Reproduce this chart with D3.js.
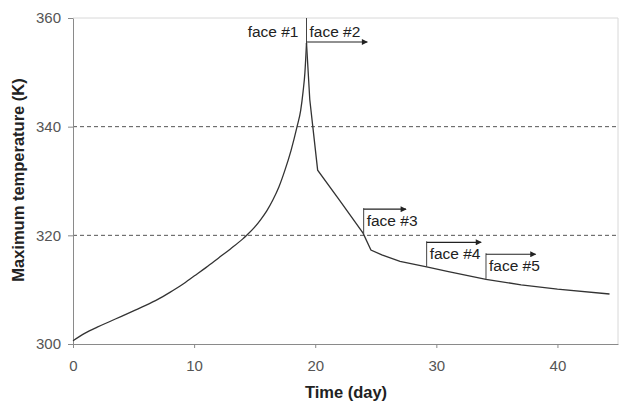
<!DOCTYPE html>
<html>
<head>
<meta charset="utf-8">
<script src="https://cdn.jsdelivr.net/npm/d3@7"></script>
<style>
  html, body { margin: 0; padding: 0; background: #ffffff; }
  svg { display: block; }
</style>
</head>
<body>
<svg id="chart" width="619" height="403"></svg>
<script>
// rising branch, up to the peak
const riseDays = [0, 1, 2, 3, 4, 5, 6, 7, 8, 9, 10, 11, 12, 13, 14, 14.34, 15, 15.5, 16, 16.5, 17, 17.5, 18, 18.5, 18.8, 19.0, 19.15, 19.28];
const riseTemps = [300.6, 302.0, 303.1, 304.1, 305.1, 306.1, 307.1, 308.2, 309.5, 310.9, 312.5, 314.1, 315.8, 317.5, 319.3, 320.0, 321.5, 322.9, 324.5, 326.5, 328.9, 332.0, 335.6, 340.0, 343.0, 346.5, 350.0, 355.4];
// falling branch, from the peak on
const fallDays = [19.28, 19.55, 19.8, 20.2, 22.0, 23.95, 24.6, 25.5, 27, 29.2, 31, 34.1, 37, 40, 44.3];
const fallTemps = [355.4, 345.0, 340.0, 332.0, 326.5, 320.4, 317.3, 316.4, 315.2, 314.2, 313.3, 311.9, 310.9, 310.1, 309.2];

const xTicks = [0, 10, 20, 30, 40];
const yTicks = [300, 320, 340, 360];
const gridValues = [320, 340];

// face markers: start day, top of marker, bottom (on the curve), arrow end day
const faceNames = ['face #2', 'face #3', 'face #4', 'face #5'];
const faceDays = [19.28, 24.0, 29.2, 34.1];
const faceTops = [360, 325.0, 318.9, 316.7];
const faceBottoms = [355.4, 320.2, 314.2, 311.9];
const faceArrowEnds = [24.3, 27.5, 33.7, 38.2];

const svg = d3.select('#chart');
const font = 'Liberation Sans, Arial, sans-serif';

const M = { left: 73, right: 618, top: 18, bottom: 344 };

const x = d3.scaleLinear().domain([0, 45]).range([M.left, M.right]);
const y = d3.scaleLinear().domain([300, 360]).range([M.bottom, M.top]);

// light frame on top and right
svg.append('path')
  .attr('d', `M${M.left},${M.top}H${M.right}V${M.bottom}`)
  .attr('fill', 'none')
  .attr('stroke', '#d8d8d8')
  .attr('stroke-width', 1);

// dashed reference lines
svg.selectAll('.grid')
  .data(gridValues)
  .join('line')
  .attr('x1', M.left)
  .attr('x2', M.right)
  .attr('y1', (d) => y(d))
  .attr('y2', (d) => y(d))
  .attr('stroke', '#555555')
  .attr('stroke-width', 1)
  .attr('stroke-dasharray', '4,3');

const xAxis = svg.append('g')
  .attr('transform', `translate(0,${M.bottom})`)
  .call(d3.axisBottom(x).tickValues(xTicks).tickSize(4).tickSizeOuter(0));

const yAxis = svg.append('g')
  .attr('transform', `translate(${M.left},0)`)
  .call(d3.axisLeft(y).tickValues(yTicks).tickSize(5).tickSizeOuter(0));

[xAxis, yAxis].forEach((g) => {
  g.select('.domain').attr('stroke', '#8a8a8a');
  g.selectAll('.tick line').attr('stroke', '#8a8a8a');
  g.selectAll('.tick text')
    .attr('fill', '#555555')
    .attr('font-size', 15)
    .attr('font-family', font);
});
xAxis.selectAll('.tick text').attr('dy', '1.35em');
yAxis.selectAll('.tick text').attr('dx', '-4');

// axis titles
svg.append('text')
  .attr('x', 346)
  .attr('y', 398)
  .attr('text-anchor', 'middle')
  .attr('font-size', 16.5)
  .attr('font-weight', 700)
  .attr('font-family', font)
  .attr('fill', '#222222')
  .text('Time (day)');

svg.append('text')
  .attr('transform', `translate(24,180) rotate(-90)`)
  .attr('text-anchor', 'middle')
  .attr('font-size', 16.5)
  .attr('font-weight', 700)
  .attr('font-family', font)
  .attr('fill', '#222222')
  .text('Maximum temperature (K)');

// curve
const line = d3.line().x((d) => x(d[0])).y((d) => y(d[1]));
svg.append('path')
  .datum(riseDays.map((d, i) => [d, riseTemps[i]]))
  .attr('fill', 'none')
  .attr('stroke', '#333333')
  .attr('stroke-width', 1.3)
  .attr('d', line.curve(d3.curveMonotoneX));
svg.append('path')
  .datum(fallDays.map((d, i) => [d, fallTemps[i]]))
  .attr('fill', 'none')
  .attr('stroke', '#333333')
  .attr('stroke-width', 1.3)
  .attr('d', line.curve(d3.curveLinear));

// arrow head
svg.append('defs').append('marker')
  .attr('id', 'head')
  .attr('viewBox', '0 0 10 10')
  .attr('refX', 9)
  .attr('refY', 5)
  .attr('markerWidth', 7)
  .attr('markerHeight', 6)
  .attr('markerUnits', 'userSpaceOnUse')
  .attr('orient', 'auto')
  .append('path')
  .attr('d', 'M0,0L10,5L0,10z')
  .attr('fill', '#222222');

// face #1 label
svg.append('text')
  .attr('x', x(19.28) - 8)
  .attr('y', 37)
  .attr('text-anchor', 'end')
  .attr('font-size', 15.5)
  .attr('font-family', font)
  .attr('fill', '#222222')
  .text('face #1');

faceNames.forEach((name, i) => {
  const x0 = x(faceDays[i]);
  const yTop = y(faceTops[i]);
  svg.append('line')
    .attr('x1', x0).attr('x2', x0)
    .attr('y1', yTop).attr('y2', y(faceBottoms[i]))
    .attr('stroke', '#444444')
    .attr('stroke-width', 1);
  const arrowY = i === 0 ? 42 : yTop + 1;
  svg.append('line')
    .attr('x1', x0).attr('x2', x(faceArrowEnds[i]))
    .attr('y1', arrowY).attr('y2', arrowY)
    .attr('stroke', '#222222')
    .attr('stroke-width', 1.2)
    .attr('marker-end', 'url(#head)');
  svg.append('text')
    .attr('x', x0 + 3)
    .attr('y', i === 0 ? 37 : yTop + 18)
    .attr('font-size', 15.5)
    .attr('font-family', font)
    .attr('fill', '#222222')
    .text(name);
});
</script>
</body>
</html>
